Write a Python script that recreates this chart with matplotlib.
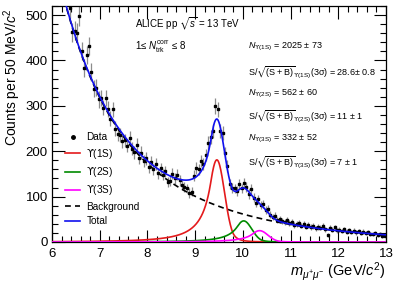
import numpy as np
import matplotlib
matplotlib.use('Agg')
import matplotlib.pyplot as plt
from matplotlib.lines import Line2D
from matplotlib.ticker import MultipleLocator

plt.rcParams['font.family'] = ['Liberation Sans', 'DejaVu Sans']
plt.rcParams['mathtext.fontset'] = 'custom'
plt.rcParams['mathtext.rm'] = 'Liberation Sans'
plt.rcParams['mathtext.it'] = 'Liberation Sans:italic'
plt.rcParams['mathtext.bf'] = 'Liberation Sans:bold'
plt.rcParams['mathtext.sf'] = 'DejaVu Sans'
plt.rcParams['mathtext.fallback'] = 'stixsans'

# ---------------- data (counts per 50 MeV bin) ----------------
bin_first = 6.375
bin_width = 0.05
counts = [516, 462, 466, 461, 498, 421, 384, 412, 432, 375,
          338, 340, 314, 317, 296, 318, 293, 272, 292, 250,
          238, 236, 222, 224, 212, 230, 205, 198, 214, 186,
          197, 179, 184, 165, 176, 160, 171, 151, 162, 148,
          156, 132, 135, 150, 140, 148, 136, 126, 122, 118,
          108, 111, 146, 163, 160, 178, 172, 192, 218, 232,
          244, 300, 292, 244, 240, 196, 168, 128, 120, 118,
          112, 128, 118, 130, 122, 106, 116, 98, 86, 94,
          82, 84, 70, 72, 60, 55, 58, 48, 50, 46,
          44, 49, 42, 45, 38, 40, 41, 36, 40, 34,
          38, 33, 35, 30, 33, 31, 35, 28, 16, 31,
          27, 32, 26, 27, 24, 28, 23, 26, 22, 25,
          21, 24, 20, 23, 19, 22, 18, 17, 20, 15,
          17, 13, 14]

# ---------------- fit-model parameters ----------------
bg_ref = 6.3
bg_fast_amp, bg_fast_tau = 229.0, 0.9
bg_slow_amp, bg_slow_tau = 289.0, 2.3
ups_states = ["1S", "2S", "3S"]
ups_mean = [9.455, 10.018, 10.35]
ups_sigma = [0.16, 0.17, 0.175]
ups_peak = [181.0, 46.5, 25.0]
ups_colors = ["#e41a1c", "#008a00", "#ff00ff"]
cb_alpha_l, cb_n_l = 0.8, 2.5
cb_alpha_r, cb_n_r = 2.0, 3.0


def dcb(t):
    out = np.exp(-0.5 * t ** 2)
    al, nl, ar, nr = cb_alpha_l, cb_n_l, cb_alpha_r, cb_n_r
    A_l = (nl / al) ** nl * np.exp(-0.5 * al ** 2)
    B_l = nl / al - al
    A_r = (nr / ar) ** nr * np.exp(-0.5 * ar ** 2)
    B_r = nr / ar - ar
    left = t < -al
    right = t > ar
    out[left] = A_l * (B_l - t[left]) ** (-nl)
    out[right] = A_r * (B_r + t[right]) ** (-nr)
    return out


mass = bin_first + bin_width * np.arange(len(counts))
y = np.array(counts, dtype=float)
yerr = np.sqrt(y)

m = np.linspace(6.0, 13.0, 1400)
bg = (bg_fast_amp * np.exp(-(m - bg_ref) / bg_fast_tau)
      + bg_slow_amp * np.exp(-(m - bg_ref) / bg_slow_tau))
sigs = [a * dcb((m - mu) / s) for mu, s, a in zip(ups_mean, ups_sigma, ups_peak)]
total = bg + sum(sigs)

# ---------------- figure ----------------
W, H = 399, 286
fig = plt.figure(figsize=(W / 100, H / 100), dpi=100)
ax = fig.add_axes([52 / W, 1 - 242 / H, 334 / W, 236 / H])

ax.errorbar(mass, y, yerr=yerr, fmt='none', ecolor='#8c8c8c', elinewidth=0.9, zorder=2)
ax.plot(mass, y, 's', color='black', ms=2.0, zorder=3)

lw = 1.2
ax.plot(m, bg, color='black', lw=lw, ls=(0, (3.5, 2.5)), zorder=4)
for sgl, c in zip(sigs, ups_colors):
    ax.plot(m, sgl, color=c, lw=lw, zorder=4)
ax.plot(m, total, color='#1010ee', lw=lw, zorder=5)

ax.set_xlim(6, 13)
ax.set_ylim(0, 520)
ax.xaxis.set_major_locator(MultipleLocator(1))
ax.xaxis.set_minor_locator(MultipleLocator(0.2))
ax.yaxis.set_major_locator(MultipleLocator(100))
ax.yaxis.set_minor_locator(MultipleLocator(20))
ax.tick_params(which='both', direction='in', top=True, right=True, width=0.8,
               labelsize=9.5)
ax.tick_params(which='major', length=9)
ax.tick_params(which='minor', length=4.5)
ax.tick_params(axis='y', pad=3)
ax.tick_params(axis='x', pad=4)
for sp in ax.spines.values():
    sp.set_linewidth(0.9)

# legend
handles = [Line2D([], [], marker='o', ms=2.5, color='black', ls='none')]
labels = ["Data"]
for st, c in zip(ups_states, ups_colors):
    handles.append(Line2D([], [], color=c, lw=lw))
    labels.append(r"$\mathsf{ϒ}$(" + st + ")")
handles.append(Line2D([], [], color='black', lw=lw, ls=(0, (3.5, 2.5))))
labels.append("Background")
handles.append(Line2D([], [], color='#1010ee', lw=lw))
labels.append("Total")
ax.legend(handles, labels, loc='upper left', bbox_to_anchor=(0.04, 0.465),
          frameon=False, fontsize=7.2, handlelength=1.5, handletextpad=0.6,
          labelspacing=0.44, borderpad=0, borderaxespad=0)


def ftext(px, py, s, **kw):
    fig.text(px / W, 1 - py / H, s, **kw)


fs = 6.5
ftext(135, 24, r"ALICE pp $\sqrt{s}$ = 13 TeV", fontsize=7, va='center')
ftext(135, 47, r"1≤ $N_{\mathrm{trk}}^{\mathrm{corr}}$ ≤ 8", fontsize=7, va='center')

right_lines = []
n_vals = ["2025 ± 73", "562 ± 60", "332 ± 52"]
sig_vals = ["28.6± 0.8", "11 ± 1", "7 ± 1"]
line_y = [47, 72, 94, 116, 139, 162]
for i, st in enumerate(ups_states):
    sub = r"{\mathsf{ϒ}\mathrm{(" + st + r")}}"
    right_lines.append((line_y[2 * i], r"$N_" + sub + r"$ = " + n_vals[i]))
    right_lines.append((line_y[2 * i + 1],
                        r"S/$\sqrt{\mathrm{(S+B)}}_" + sub + r"$(3σ) = " + sig_vals[i]))
for py, s in right_lines:
    ftext(248, py, s, fontsize=fs, va='center')

ftext(12, 8, r"Counts per 50 MeV/$c^{2}$", fontsize=10, rotation=90,
      ha='center', va='top')
ftext(386, 272, r"$m_{\mu^{+}\mu^{-}}$ (GeV/$c^{2}$)", fontsize=10.5,
      ha='right', va='center')

fig.savefig("out.png", dpi=100)
